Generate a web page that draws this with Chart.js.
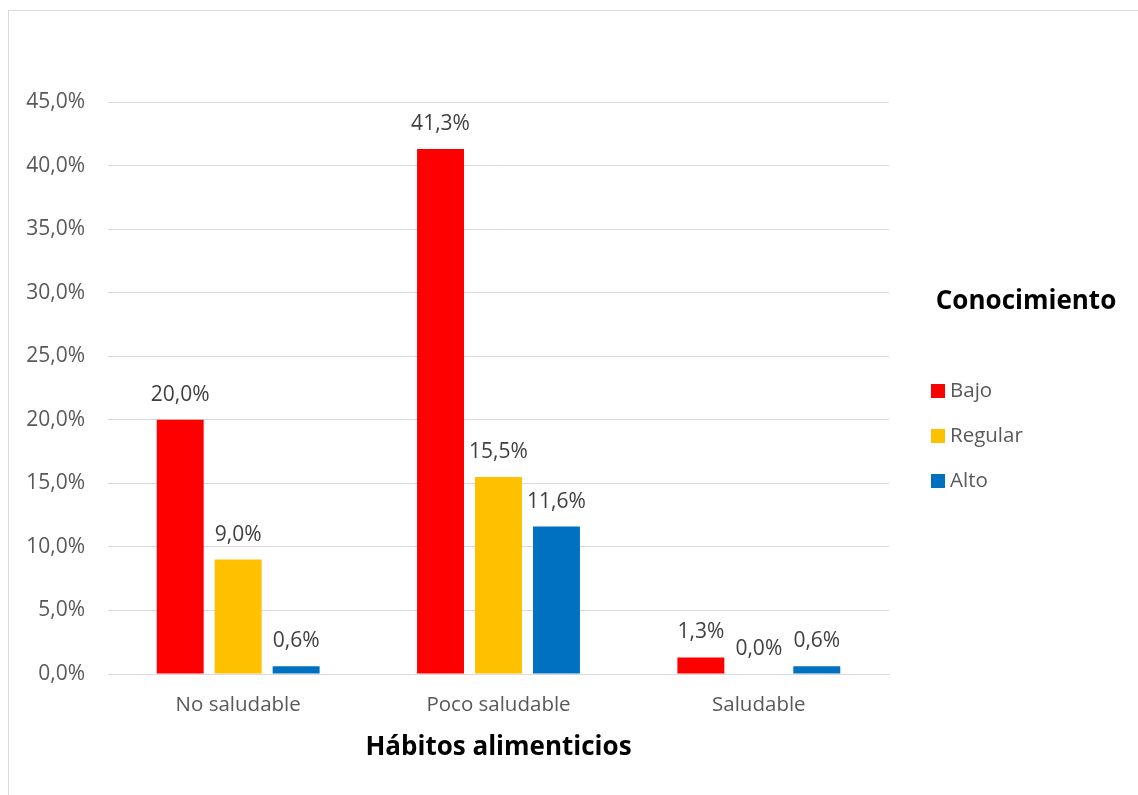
<!DOCTYPE html>
<html>
<head>
<meta charset="utf-8">
<script src="https://cdn.jsdelivr.net/npm/chart.js@4/dist/chart.umd.min.js"></script>
<style>
  html, body { margin: 0; padding: 0; background: #fff; overflow: hidden; }
  #frame { position: absolute; left: 8px; top: 10px; width: 2000px; height: 2000px; border: 1px solid #d9d9d9; }
  #wrap { position: absolute; left: 0; top: 0; width: 1138px; height: 795px; }
</style>
</head>
<body>
<div id="frame"></div>
<div id="wrap"><canvas id="chart"></canvas></div>
<script>
const categories = ['No saludable', 'Poco saludable', 'Saludable']
const bajo = [20.0, 41.3, 1.3]
const regular = [9.0, 15.5, 0.0]
const alto = [0.6, 11.6, 0.6]
const seriesNames = ['Bajo', 'Regular', 'Alto']
const seriesColors = ['#ff0000', '#ffc000', '#0070c0']

const FONT = "'Open Sans', sans-serif"
const pct = v => v.toFixed(1).replace('.', ',') + '%'

// value labels above each bar
const barLabels = {
    id: 'barLabels',
    afterDatasetsDraw(chart) {
        const c = chart.ctx
        c.save()
        c.font = '21px ' + FONT
        c.fillStyle = '#404040'
        c.textAlign = 'center'
        c.textBaseline = 'middle'
        chart.data.datasets.forEach((ds, i) => {
            chart.getDatasetMeta(i).data.forEach((bar, j) => {
                c.fillText(pct(ds.data[j]), bar.x, bar.y - 25)
            })
        })
        c.restore()
    }
}

// legend block on the right: title plus one square per series
const sideLegend = {
    id: 'sideLegend',
    afterDraw(chart) {
        const c = chart.ctx
        c.save()
        c.font = 'bold 26px ' + FONT
        c.fillStyle = '#000'
        c.textAlign = 'center'
        c.textBaseline = 'middle'
        c.fillText('Conocimiento', 1026, 302)
        c.font = '20.5px ' + FONT
        c.textAlign = 'left'
        chart.data.datasets.forEach((ds, i) => {
            const y = 391 + i * 45
            c.fillStyle = ds.backgroundColor
            c.fillRect(931, y - 7, 14, 14)
            c.fillStyle = '#595959'
            c.fillText(ds.label, 950, y)
        })
        c.restore()
    }
}

const datasets = [bajo, regular, alto].map((vals, i) => ({
    label: seriesNames[i],
    data: vals,
    backgroundColor: seriesColors[i],
    borderWidth: 0,
    categoryPercentage: 0.668,
    barPercentage: 0.81
}))

new Chart(document.getElementById('chart'), {
    type: 'bar',
    data: { labels: categories, datasets: datasets },
    options: {
        responsive: true,
        maintainAspectRatio: false,
        animation: false,
        layout: { padding: { left: 0, right: 249, top: 102, bottom: 0 } },
        plugins: {
            legend: { display: false },
            tooltip: { enabled: false }
        },
        scales: {
            x: {
                grid: { display: false, drawTicks: false },
                border: { color: '#d9d9d9', width: 1 },
                ticks: { color: '#595959', font: { family: FONT, size: 20.5 }, padding: 19 },
                title: {
                    display: true,
                    text: 'Hábitos alimenticios',
                    color: '#000',
                    font: { family: FONT, size: 26, weight: 'bold' },
                    padding: { top: 0, bottom: 32 }
                },
                afterFit(s) { s.height = 121 }
            },
            y: {
                min: 0,
                max: 45,
                ticks: {
                    stepSize: 5,
                    color: '#595959',
                    font: { family: FONT, size: 21 },
                    padding: 23,
                    callback: v => pct(v)
                },
                grid: { color: '#d9d9d9', lineWidth: 1, drawTicks: false },
                border: { display: false },
                afterFit(s) { s.width = 108 }
            }
        }
    },
    plugins: [barLabels, sideLegend]
})
</script>
</body>
</html>
